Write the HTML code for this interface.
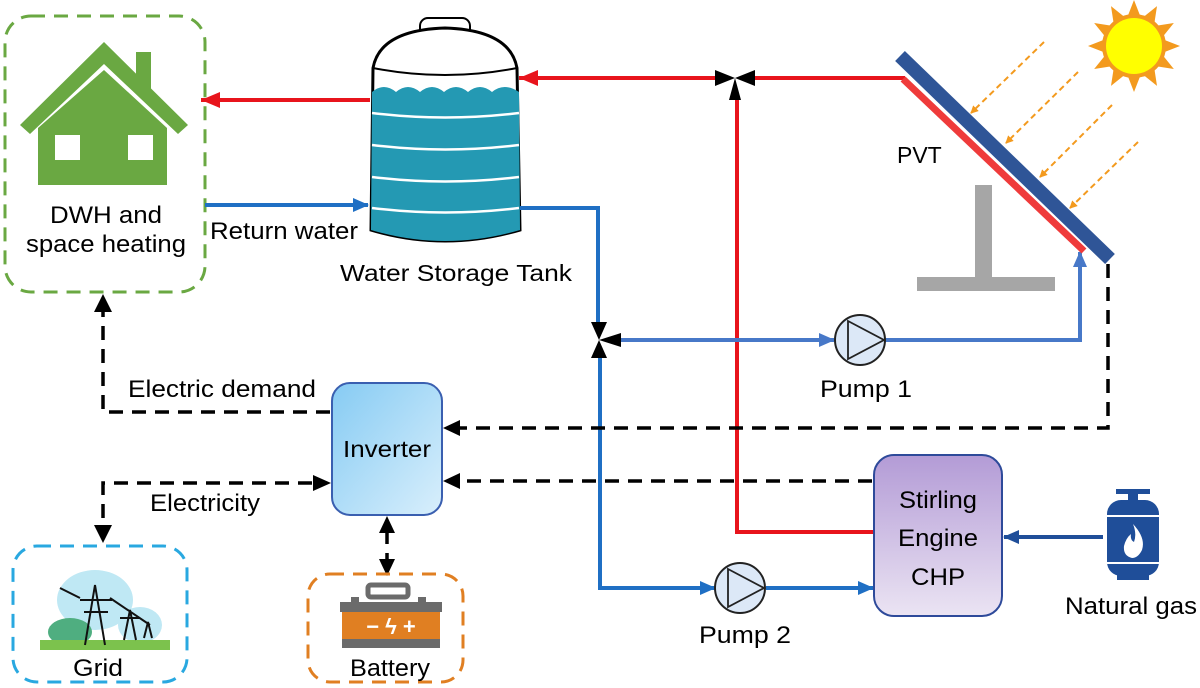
<!DOCTYPE html>
<html><head><meta charset="utf-8"><style>
html,body{margin:0;padding:0;background:#fff;}
svg{display:block;font-family:"Liberation Sans",Arial,sans-serif;}
</style></head><body>
<svg width="1200" height="688" viewBox="0 0 1200 688" xmlns="http://www.w3.org/2000/svg">
<defs>
<marker id="ar" markerWidth="20" markerHeight="20" refX="19" refY="10" orient="auto" markerUnits="userSpaceOnUse"><path d="M0,2 L19,10 L0,18Z" fill="#e8141c"/></marker>
<marker id="ab" markerWidth="16" markerHeight="16" refX="15" refY="8" orient="auto" markerUnits="userSpaceOnUse"><path d="M0,1 L16,8 L0,15Z" fill="#1f6fc4"/></marker>
<marker id="ab2" markerWidth="16" markerHeight="16" refX="15" refY="8" orient="auto" markerUnits="userSpaceOnUse"><path d="M0,1 L16,8 L0,15Z" fill="#4778c8"/></marker>
<marker id="ao" markerWidth="8" markerHeight="8" refX="7" refY="4" orient="auto" markerUnits="userSpaceOnUse"><path d="M0,0 L8,4 L0,8Z" fill="#f39a1e"/></marker>
<marker id="an" markerWidth="16" markerHeight="16" refX="15" refY="8" orient="auto" markerUnits="userSpaceOnUse"><path d="M0,1 L16,8 L0,15Z" fill="#1f4e99"/></marker>
<linearGradient id="gi" x1="0" y1="0" x2="1" y2="1"><stop offset="0" stop-color="#86cbf3"/><stop offset="1" stop-color="#d9effc"/></linearGradient>
<linearGradient id="gc" x1="0" y1="0" x2="0" y2="1"><stop offset="0" stop-color="#b39bd6"/><stop offset="1" stop-color="#ebe4f3"/></linearGradient>
</defs>

<!-- House box -->
<rect x="5" y="16" width="200" height="276" rx="26" fill="none" stroke="#6aa842" stroke-width="3" stroke-dasharray="14,9"/>
<path d="M20,125 L104,42 L188,125 L178,134 L104,64 L30,134Z" fill="#6aa842"/>
<rect x="136" y="52" width="15" height="42" fill="#6aa842"/>
<path d="M38,128 L104,70 L167,128 L167,185 L38,185Z" fill="#6aa842"/>
<rect x="55" y="135" width="25" height="25" fill="#fff"/>
<rect x="128" y="135" width="25" height="25" fill="#fff"/>
<text x="106" y="223" font-size="24" text-anchor="middle" textLength="112" lengthAdjust="spacingAndGlyphs">DWH and</text>
<text x="106" y="252" font-size="24" text-anchor="middle" textLength="160" lengthAdjust="spacingAndGlyphs">space heating</text>

<!-- Tank -->
<rect x="420" y="18" width="50" height="20" rx="8" fill="#fff" stroke="#000" stroke-width="2"/>
<path d="M373,68 Q380,30 445,28 Q510,30 517,68 L520,230 Q445,252 371,230 Z" fill="#fff" stroke="#000" stroke-width="3"/>
<path d="M372,92 Q384,82 396,92 Q408,82 420,92 Q432,82 444,92 Q456,82 468,92 Q480,82 492,92 Q504,82 519,92 L520,230 Q445,252 371,230Z" fill="#2499b3"/>
<path d="M373,68 Q445,82 517,68" fill="none" stroke="#000" stroke-width="2"/>
<g stroke="#fff" stroke-width="2.5" fill="none">
<path d="M372,113 Q445,122 519,113"/><path d="M372,145 Q445,154 519,145"/><path d="M372,177 Q445,186 519,177"/><path d="M372,208 Q445,217 519,208"/>
</g>
<text x="456" y="281" font-size="23" text-anchor="middle" textLength="232" lengthAdjust="spacingAndGlyphs">Water Storage Tank</text>

<!-- red pipes -->
<line x1="370" y1="100" x2="201" y2="100" stroke="#e8141c" stroke-width="4" marker-end="url(#ar)"/>
<line x1="715" y1="78" x2="519" y2="78" stroke="#e8141c" stroke-width="4" marker-end="url(#ar)"/>
<line x1="750" y1="78" x2="905" y2="78" stroke="#e8141c" stroke-width="4"/>
<polyline points="737,100 737,532 874,532" fill="none" stroke="#e8141c" stroke-width="4"/>
<path d="M715,70 L715,86 L735,78Z M755,70 L755,86 L735,78Z M729,100 L741,100 L735,78Z" fill="#000"/>

<!-- blue return -->
<line x1="205" y1="205" x2="368" y2="205" stroke="#1f6fc4" stroke-width="4" marker-end="url(#ab)"/>
<text x="210" y="239" font-size="24" textLength="148" lengthAdjust="spacingAndGlyphs">Return water</text>
<polyline points="520,208 598,208 598,324" fill="none" stroke="#1f6fc4" stroke-width="4"/>
<path d="M591,322 L607,322 L599,340Z M591,358 L607,358 L599,340Z M621,333 L621,347 L599,340Z" fill="#000"/>
<line x1="621" y1="340" x2="834" y2="340" stroke="#4778c8" stroke-width="4" marker-end="url(#ab2)"/>
<polyline points="885,340 1080,340 1080,252" fill="none" stroke="#4778c8" stroke-width="4" marker-end="url(#ab2)"/>
<polyline points="600,358 600,588 715,588" fill="none" stroke="#1f6fc4" stroke-width="4" marker-end="url(#ab)"/>
<line x1="766" y1="588" x2="873" y2="588" stroke="#1f6fc4" stroke-width="4" marker-end="url(#ab)"/>
<circle cx="860" cy="340" r="25" fill="#dce8f7" stroke="#222" stroke-width="2"/>
<path d="M848,321 L884,340 L848,359Z" fill="none" stroke="#222" stroke-width="1.8"/>
<circle cx="740" cy="588" r="25" fill="#dce8f7" stroke="#222" stroke-width="2"/>
<path d="M728,569 L764,588 L728,607Z" fill="none" stroke="#222" stroke-width="1.8"/>
<text x="866" y="397" font-size="24" text-anchor="middle" textLength="92" lengthAdjust="spacingAndGlyphs">Pump 1</text>
<text x="745" y="643" font-size="24" text-anchor="middle" textLength="92" lengthAdjust="spacingAndGlyphs">Pump 2</text>

<!-- PVT -->
<rect x="975" y="185" width="17" height="95" fill="#a6a6a6"/>
<rect x="917" y="277" width="138" height="14" fill="#a6a6a6"/>
<line x1="903" y1="79" x2="1084" y2="251" stroke="#ef3b3b" stroke-width="7"/>
<line x1="900" y1="56" x2="1110" y2="259" stroke="#2f5597" stroke-width="14"/>
<text x="897" y="163" font-size="23">PVT</text>
<g transform="translate(1134,46)">
<g fill="#f39a1e">
<path d="M0,-46 L7,-28 L-7,-28Z" transform="rotate(0)"/><path d="M0,-46 L7,-28 L-7,-28Z" transform="rotate(30)"/><path d="M0,-46 L7,-28 L-7,-28Z" transform="rotate(60)"/><path d="M0,-46 L7,-28 L-7,-28Z" transform="rotate(90)"/><path d="M0,-46 L7,-28 L-7,-28Z" transform="rotate(120)"/><path d="M0,-46 L7,-28 L-7,-28Z" transform="rotate(150)"/><path d="M0,-46 L7,-28 L-7,-28Z" transform="rotate(180)"/><path d="M0,-46 L7,-28 L-7,-28Z" transform="rotate(210)"/><path d="M0,-46 L7,-28 L-7,-28Z" transform="rotate(240)"/><path d="M0,-46 L7,-28 L-7,-28Z" transform="rotate(270)"/><path d="M0,-46 L7,-28 L-7,-28Z" transform="rotate(300)"/><path d="M0,-46 L7,-28 L-7,-28Z" transform="rotate(330)"/>
<circle r="32"/></g>
<circle r="28" fill="#ffff00"/>
</g>
<g stroke="#f39a1e" stroke-width="2" stroke-dasharray="6,4" marker-end="url(#ao)">
<line x1="1044" y1="42" x2="971" y2="113"/>
<line x1="1078" y1="72" x2="1006" y2="143"/>
<line x1="1112" y1="105" x2="1040" y2="177"/>
<line x1="1138" y1="142" x2="1070" y2="208"/>
</g>

<!-- Inverter -->
<rect x="332" y="383" width="110" height="132" rx="18" fill="url(#gi)" stroke="#3a5fb0" stroke-width="2"/>
<text x="387" y="457" font-size="23" text-anchor="middle" textLength="88" lengthAdjust="spacingAndGlyphs">Inverter</text>

<g fill="none" stroke="#000" stroke-width="3.5" stroke-dasharray="14,9">
<polyline points="330,412 103,412 103,310"/>
<polyline points="1108,264 1108,428 460,428"/>
<line x1="872" y1="481" x2="460" y2="481"/>
<polyline points="312,483 103,483 103,525"/>
<line x1="387" y1="530" x2="387" y2="562"/>
</g>
<path d="M94,312 L112,312 L103,294Z" fill="#000"/>
<path d="M460,420 L460,436 L443,428Z" fill="#000"/>
<path d="M460,473 L460,489 L443,481Z" fill="#000"/>
<path d="M313,475 L313,491 L331,483Z" fill="#000"/>
<path d="M94,525 L112,525 L103,543Z" fill="#000"/>
<path d="M379,533 L395,533 L387,516Z" fill="#000"/>
<path d="M379,559 L395,559 L387,576Z" fill="#000"/>
<text x="128" y="397" font-size="24" textLength="188" lengthAdjust="spacingAndGlyphs">Electric demand</text>
<text x="150" y="511" font-size="24" textLength="110" lengthAdjust="spacingAndGlyphs">Electricity</text>

<!-- Grid -->
<rect x="13" y="546" width="174" height="136" rx="24" fill="none" stroke="#29a8e0" stroke-width="3" stroke-dasharray="14,9"/>
<ellipse cx="95" cy="600" rx="38" ry="30" fill="#bfe8f4"/>
<ellipse cx="140" cy="625" rx="22" ry="18" fill="#bfe8f4"/>
<ellipse cx="70" cy="632" rx="22" ry="14" fill="#4fae80"/>
<rect x="40" y="640" width="130" height="10" fill="#7cc24d"/>
<g stroke="#111" stroke-width="2" fill="none">
<path d="M85,645 L95,585 L105,645 M80,600 L112,600 M84,612 L108,612"/>
<path d="M124,640 L130,610 L136,640 M120,618 L140,618"/>
<path d="M144,638 L148,622 L152,638"/>
<path d="M60,588 L80,598 M110,598 L150,625"/>
</g>
<text x="98" y="676" font-size="24" text-anchor="middle" textLength="50" lengthAdjust="spacingAndGlyphs">Grid</text>

<!-- Battery -->
<rect x="308" y="574" width="155" height="108" rx="22" fill="none" stroke="#e07f22" stroke-width="3" stroke-dasharray="14,9"/>
<rect x="368" y="585" width="40" height="12" rx="3" fill="none" stroke="#6b6b6b" stroke-width="5"/>
<rect x="351" y="597" width="8" height="6" fill="#6b6b6b"/><rect x="418" y="597" width="8" height="6" fill="#6b6b6b"/>
<rect x="340" y="602" width="102" height="10" fill="#6b6b6b"/>
<rect x="342" y="612" width="98" height="27" fill="#e07f22"/>
<rect x="342" y="639" width="98" height="9" fill="#6b6b6b"/>
<text x="391" y="634" font-size="22" font-weight="bold" fill="#fff" text-anchor="middle">− ϟ +</text>
<text x="390" y="676" font-size="24" text-anchor="middle" textLength="80" lengthAdjust="spacingAndGlyphs">Battery</text>

<!-- CHP -->
<rect x="874" y="455" width="128" height="161" rx="20" fill="url(#gc)" stroke="#2e4a9a" stroke-width="2"/>
<text x="938" y="508" font-size="24" text-anchor="middle" textLength="78" lengthAdjust="spacingAndGlyphs">Stirling</text>
<text x="938" y="546" font-size="24" text-anchor="middle" textLength="80" lengthAdjust="spacingAndGlyphs">Engine</text>
<text x="938" y="585" font-size="24" text-anchor="middle" textLength="54" lengthAdjust="spacingAndGlyphs">CHP</text>

<!-- gas -->
<line x1="1103" y1="537" x2="1004" y2="537" stroke="#1f4e99" stroke-width="4" marker-end="url(#an)"/>
<rect x="1116" y="489" width="34" height="5" fill="#1f4e99"/>
<rect x="1128" y="493" width="10" height="8" fill="#1f4e99"/>
<rect x="1107" y="500" width="52" height="76" rx="14" fill="#1f4e99"/>
<line x1="1107" y1="516" x2="1159" y2="516" stroke="#fff" stroke-width="2"/>
<line x1="1107" y1="563" x2="1159" y2="563" stroke="#fff" stroke-width="2"/>
<path d="M1133,524 Q1146,538 1142,550 Q1138,558 1132,558 Q1123,556 1124,546 Q1126,538 1131,534 Q1130,540 1134,542 Q1137,534 1133,524Z" fill="#fff"/>
<rect x="1117" y="575" width="32" height="5" fill="#1f4e99"/>
<text x="1131" y="614" font-size="24" text-anchor="middle" textLength="132" lengthAdjust="spacingAndGlyphs">Natural gas</text>
</svg>
</body></html>
